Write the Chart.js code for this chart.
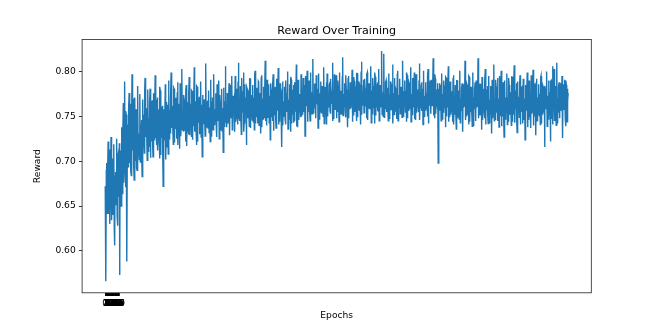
<!DOCTYPE html>
<html>
<head>
<meta charset="utf-8">
<script src="https://cdn.jsdelivr.net/npm/chart.js@4.4.1/dist/chart.umd.min.js"></script>
<style>
html,body{margin:0;padding:0;background:#fff;}
#wrap{width:657px;height:329px;}
</style>
</head>
<body>
<div id="wrap"><canvas id="c" width="657" height="329"></canvas></div>
<script>
const chartTitle = "Reward Over Training";
const xAxisLabel = "Epochs";
const yAxisLabel = "Reward";
const xTickValues = [0,1,2,3,4,5,6,7,8,9,10,11,12,13,14,15,16,17,18,19,
                     20,21,22,23,24,25,26,27,28,29,30,31,32,33,34,35,36,37,38,39];
const yTickValues = [0.60,0.65,0.70,0.75,0.80];

const r01 = [
0.672,0.661,0.566,0.690,0.698,0.642,0.655,0.686,0.722,0.652,
0.641,0.699,0.713,0.630,0.662,0.679,0.727,0.648,0.634,0.703,
0.701,0.640,0.648,0.694,0.719,0.623,0.606,0.684,0.688,0.651,
0.655,0.711,0.725,0.637,0.628,0.706,0.709,0.668,0.660,0.720,
0.573,0.712,0.694,0.655,0.650,0.727,0.738,0.664,0.682,0.731,
0.765,0.676,0.702,0.745,0.789,0.692,0.671,0.756,0.752,0.664,
0.588,0.719,0.741,0.705,0.693,0.757,0.776,0.698,0.708,0.764,
0.761,0.689,0.684,0.752,0.797,0.712,0.716,0.770,0.748,0.695];
const r02 = [
0.679,0.762,0.771,0.701,0.722,0.758,0.757,0.692,0.690,0.767,
0.784,0.706,0.731,0.725,0.702,0.760,0.775,0.699,0.718,0.741,
0.746,0.711,0.683,0.765,0.769,0.716,0.735,0.752,0.709,0.778,
0.793,0.727,0.727,0.759,0.752,0.730,0.701,0.780,0.774,0.711,
0.738,0.748,0.716,0.767,0.781,0.704,0.744,0.739,0.722,0.763,
0.768,0.718,0.705,0.776,0.759,0.724,0.733,0.755,0.796,0.726,
0.740,0.747,0.718,0.769,0.771,0.712,0.728,0.758,0.754,0.729,
0.703,0.783,0.779,0.707,0.745,0.736,0.726,0.761,0.762,0.720];
const r03 = [
0.672,0.757,0.758,0.724,0.737,0.749,0.786,0.702,0.721,0.766,
0.765,0.716,0.742,0.763,0.708,0.790,0.777,0.725,0.750,0.757,
0.731,0.771,0.799,0.737,0.744,0.762,0.762,0.739,0.719,0.782,
0.781,0.721,0.753,0.748,0.736,0.770,0.770,0.732,0.725,0.777,
0.788,0.718,0.747,0.759,0.764,0.737,0.714,0.787,0.775,0.728,
0.741,0.766,0.803,0.735,0.756,0.745,0.733,0.774,0.769,0.734,
0.748,0.758,0.722,0.780,0.785,0.717,0.751,0.756,0.766,0.736,
0.730,0.775,0.794,0.729,0.745,0.762,0.760,0.741,0.727,0.779];
const r04 = [
0.778,0.724,0.754,0.751,0.739,0.768,0.805,0.733,0.748,0.758,
0.767,0.735,0.718,0.784,0.783,0.722,0.757,0.749,0.743,0.763,
0.772,0.731,0.731,0.785,0.789,0.727,0.752,0.763,0.705,0.774,
0.770,0.742,0.746,0.769,0.761,0.751,0.728,0.788,0.809,0.738,
0.750,0.765,0.766,0.746,0.737,0.779,0.779,0.732,0.755,0.760,
0.722,0.791,0.784,0.728,0.749,0.767,0.771,0.741,0.735,0.780,
0.797,0.741,0.758,0.754,0.744,0.772,0.776,0.736,0.727,0.786,
0.768,0.745,0.752,0.763,0.790,0.725,0.741,0.774,0.763,0.748];
const r05 = [
0.735,0.778,0.781,0.734,0.756,0.759,0.710,0.782,0.774,0.739,
0.748,0.767,0.806,0.743,0.759,0.752,0.738,0.776,0.771,0.742,
0.746,0.769,0.787,0.729,0.729,0.785,0.764,0.748,0.753,0.762,
0.795,0.735,0.740,0.773,0.769,0.758,0.757,0.776,0.733,0.795,
0.785,0.744,0.750,0.781,0.772,0.756,0.741,0.789,0.810,0.747,
0.761,0.770,0.745,0.784,0.778,0.750,0.730,0.793,0.767,0.761,
0.754,0.778,0.799,0.733,0.743,0.786,0.775,0.752,0.762,0.771,
0.718,0.783,0.781,0.748,0.752,0.779,0.768,0.760,0.739,0.792];
const r06 = [
0.792,0.737,0.757,0.774,0.773,0.755,0.746,0.785,0.784,0.744,
0.760,0.771,0.735,0.797,0.801,0.742,0.764,0.766,0.749,0.782,
0.777,0.751,0.742,0.789,0.788,0.740,0.755,0.776,0.770,0.759,
0.731,0.794,0.796,0.738,0.761,0.770,0.747,0.783,0.779,0.749,
0.753,0.777,0.812,0.745,0.766,0.763,0.740,0.791,0.774,0.754,
0.749,0.780,0.786,0.743,0.758,0.773,0.724,0.787,0.780,0.749,
0.763,0.768,0.745,0.786,0.797,0.734,0.768,0.761,0.751,0.779,
0.783,0.746,0.737,0.792,0.771,0.757,0.759,0.774,0.804,0.741];
const r07 = [
0.762,0.770,0.744,0.787,0.776,0.752,0.755,0.778,0.716,0.781,
0.789,0.740,0.767,0.761,0.750,0.783,0.782,0.747,0.741,0.790,
0.773,0.755,0.758,0.774,0.800,0.736,0.764,0.769,0.747,0.786,
0.779,0.750,0.733,0.794,0.791,0.742,0.769,0.758,0.752,0.780,
0.785,0.743,0.746,0.788,0.775,0.756,0.761,0.772,0.808,0.739,
0.770,0.763,0.738,0.791,0.782,0.746,0.757,0.775,0.773,0.768,
0.749,0.797,0.796,0.750,0.766,0.779,0.752,0.793,0.787,0.755,
0.760,0.785,0.728,0.795,0.779,0.762,0.763,0.783,0.801,0.744];
const r08 = [
0.771,0.775,0.755,0.790,0.784,0.758,0.745,0.799,0.792,0.753,
0.768,0.777,0.753,0.792,0.814,0.754,0.774,0.769,0.759,0.786,
0.786,0.757,0.748,0.796,0.778,0.765,0.764,0.781,0.737,0.794,
0.798,0.747,0.770,0.776,0.756,0.789,0.789,0.754,0.761,0.784,
0.776,0.767,0.750,0.793,0.805,0.742,0.768,0.778,0.783,0.760,
0.757,0.788,0.741,0.798,0.793,0.750,0.772,0.773,0.760,0.785,
0.788,0.756,0.753,0.792,0.779,0.764,0.766,0.779,0.810,0.745,
0.774,0.771,0.747,0.797,0.785,0.758,0.763,0.783,0.796,0.748];
const r09 = [
0.771,0.776,0.755,0.790,0.782,0.760,0.744,0.799,0.790,0.753,
0.767,0.778,0.778,0.765,0.752,0.794,0.816,0.751,0.775,0.768,
0.761,0.785,0.787,0.756,0.749,0.796,0.780,0.763,0.769,0.777,
0.738,0.793,0.795,0.748,0.773,0.772,0.758,0.788,0.784,0.759,
0.766,0.779,0.802,0.744,0.776,0.767,0.751,0.794,0.789,0.755,
0.763,0.782,0.780,0.762,0.745,0.798,0.798,0.749,0.772,0.774,
0.757,0.789,0.786,0.756,0.768,0.777,0.741,0.800,0.811,0.752,
0.777,0.766,0.762,0.784,0.791,0.754,0.754,0.792,0.781,0.761];
const r10 = [
0.770,0.775,0.748,0.797,0.799,0.746,0.774,0.769,0.759,0.787,
0.787,0.758,0.765,0.780,0.806,0.743,0.779,0.764,0.753,0.793,
0.784,0.759,0.768,0.778,0.742,0.799,0.794,0.751,0.775,0.770,
0.760,0.786,0.788,0.757,0.756,0.790,0.803,0.745,0.771,0.776,
0.785,0.760,0.762,0.783,0.823,0.752,0.777,0.765,0.750,0.796,
0.820,0.749,0.773,0.772,0.758,0.788,0.790,0.755,0.766,0.779,
0.782,0.763,0.745,0.798,0.797,0.748,0.772,0.773,0.757,0.789,
0.786,0.757,0.769,0.777,0.808,0.742,0.776,0.767,0.752,0.793];
const r11 = [
0.789,0.756,0.764,0.781,0.779,0.764,0.747,0.797,0.801,0.745,
0.774,0.771,0.760,0.786,0.792,0.753,0.768,0.777,0.783,0.762,
0.749,0.796,0.812,0.750,0.778,0.765,0.761,0.785,0.790,0.755,
0.766,0.779,0.744,0.799,0.796,0.748,0.773,0.770,0.756,0.789,
0.787,0.758,0.770,0.775,0.805,0.744,0.775,0.768,0.752,0.793,
0.784,0.761,0.763,0.782,0.799,0.747,0.771,0.774,0.746,0.797,
0.791,0.754,0.767,0.778,0.780,0.763,0.755,0.790,0.809,0.746,
0.776,0.767,0.759,0.786,0.788,0.756,0.764,0.781,0.741,0.801];
const r12 = [
0.795,0.750,0.772,0.773,0.757,0.788,0.786,0.759,0.769,0.776,
0.750,0.795,0.803,0.742,0.777,0.766,0.762,0.784,0.790,0.754,
0.753,0.791,0.781,0.762,0.768,0.777,0.815,0.751,0.774,0.770,
0.748,0.797,0.792,0.753,0.765,0.780,0.779,0.764,0.758,0.787,
0.698,0.781,0.773,0.770,0.787,0.757,0.761,0.785,0.745,0.797,
0.798,0.747,0.770,0.775,0.755,0.790,0.784,0.759,0.766,0.779,
0.738,0.794,0.793,0.750,0.775,0.768,0.760,0.786,0.806,0.744,
0.771,0.772,0.749,0.789,0.786,0.752,0.763,0.774,0.778,0.757];
const r13 = [
0.744,0.793,0.796,0.741,0.768,0.770,0.752,0.785,0.783,0.754,
0.736,0.790,0.790,0.748,0.765,0.773,0.779,0.759,0.747,0.788,
0.801,0.743,0.770,0.766,0.756,0.781,0.787,0.750,0.733,0.786,
0.776,0.761,0.762,0.775,0.812,0.746,0.773,0.764,0.750,0.787,
0.785,0.752,0.764,0.773,0.741,0.795,0.794,0.744,0.769,0.768,
0.755,0.783,0.782,0.756,0.739,0.792,0.799,0.740,0.771,0.767,
0.758,0.780,0.788,0.749,0.745,0.790,0.777,0.760,0.763,0.774,
0.815,0.748,0.774,0.763,0.751,0.786,0.786,0.751,0.760,0.777];
const r14 = [
0.735,0.794,0.791,0.746,0.767,0.771,0.781,0.755,0.748,0.789,
0.803,0.741,0.772,0.765,0.757,0.780,0.784,0.753,0.742,0.793,
0.795,0.743,0.768,0.769,0.753,0.784,0.779,0.758,0.731,0.791,
0.789,0.748,0.764,0.772,0.808,0.745,0.770,0.767,0.746,0.791,
0.783,0.754,0.759,0.778,0.793,0.745,0.767,0.770,0.738,0.795,
0.786,0.751,0.762,0.775,0.801,0.739,0.773,0.762,0.750,0.788,
0.781,0.756,0.727,0.786,0.790,0.747,0.766,0.771,0.755,0.782,
0.798,0.741,0.771,0.765,0.744,0.793,0.785,0.752,0.760,0.777];
const r15 = [
0.776,0.759,0.740,0.794,0.794,0.744,0.768,0.769,0.752,0.785,
0.807,0.743,0.774,0.763,0.758,0.779,0.787,0.750,0.732,0.789,
0.780,0.755,0.765,0.772,0.749,0.786,0.796,0.741,0.770,0.766,
0.755,0.782,0.783,0.754,0.742,0.792,0.791,0.746,0.767,0.770,
0.724,0.785,0.778,0.757,0.761,0.776,0.799,0.738,0.771,0.764,
0.746,0.790,0.788,0.749,0.763,0.774,0.737,0.796,0.784,0.753,
0.757,0.781,0.802,0.740,0.772,0.765,0.750,0.787,0.781,0.756,
0.729,0.788,0.792,0.745,0.766,0.771,0.753,0.784,0.786,0.751];
const r16 = [
0.762,0.775,0.741,0.793,0.795,0.742,0.770,0.767,0.752,0.785,
0.783,0.754,0.758,0.779,0.716,0.784,0.779,0.758,0.764,0.773,
0.800,0.739,0.773,0.762,0.747,0.790,0.786,0.752,0.760,0.777,
0.722,0.789,0.790,0.747,0.768,0.769,0.806,0.741,0.775,0.760,
0.803,0.745,0.761,0.776,0.784,0.753,0.740,0.794,0.810,0.743,
0.769,0.768,0.754,0.783,0.788,0.749,0.748,0.787,0.781,0.756,
0.763,0.773,0.795,0.742,0.726,0.786,0.777,0.759,0.758,0.779,
0.791,0.747,0.739,0.790,0.785,0.752,0.744,0.781,0.767,0.776];

const rewards = [].concat(r01, r02, r03, r04, r05, r06, r07, r08,
                          r09, r10, r11, r12, r13, r14, r15, r16);
const points = rewards.map((v, i) => ({x: i, y: v}));

// matplotlib-like 5% margins
const n = rewards.length;
const xPad = (n - 1) * 0.05;
const yMinD = Math.min(...rewards), yMaxD = Math.max(...rewards);
const yPad = (yMaxD - yMinD) * 0.05;

const FONT = "'DejaVu Sans', sans-serif";

const framePlugin = {
  id: 'frame',
  afterDraw(chart) {
    const {ctx, chartArea: a} = chart;
    ctx.save();
    ctx.strokeStyle = '#222';
    ctx.lineWidth = 0.8;
    ctx.strokeRect(a.left, a.top, a.right - a.left, a.bottom - a.top);
    ctx.fillStyle = '#000';
    ctx.font = "11.1px " + FONT;
    ctx.textAlign = 'center';
    ctx.textBaseline = 'alphabetic';
    ctx.fillText(chartTitle, (a.left + a.right) / 2, 34.3);
    ctx.restore();
  }
};

new Chart(document.getElementById('c'), {
  type: 'line',
  data: {
    datasets: [{
      data: points,
      borderColor: '#1f77b4',
      borderWidth: 1.4,
      pointRadius: 0,
      tension: 0,
      fill: false
    }]
  },
  options: {
    responsive: false,
    devicePixelRatio: 1,
    animation: false,
    parsing: false,
    normalized: true,
    layout: { padding: { left: 0, right: 65.7, top: 39.5, bottom: 0 } },
    plugins: { legend: { display: false }, tooltip: { enabled: false }, title: { display: false } },
    scales: {
      x: {
        type: 'linear',
        min: -xPad,
        max: (n - 1) + xPad,
        afterBuildTicks: (s) => { s.ticks = xTickValues.map(v => ({value: v})); },
        afterFit: (s) => { s.height = 36.2; },
        ticks: {
          autoSkip: false, maxRotation: 0, minRotation: 0,
          color: '#000', padding: 2.5,
          font: { family: FONT, size: 9.13 },
          callback: (v) => String(v)
        },
        grid: { drawOnChartArea: false, drawTicks: true, tickLength: 3.2, color: '#000', tickColor: '#000', lineWidth: 0.8 },
        border: { display: false },
        title: { display: true, text: xAxisLabel, color: '#000', font: { family: FONT, size: 9.13 }, padding: { top: 0, bottom: 7.5 } }
      },
      y: {
        type: 'linear',
        min: yMinD - yPad,
        max: yMaxD + yPad,
        afterBuildTicks: (s) => { s.ticks = yTickValues.map(v => ({value: v})); },
        afterFit: (s) => { s.width = 82.1; },
        ticks: {
          color: '#000', padding: 3.2,
          font: { family: FONT, size: 9.13 },
          callback: (v) => Number(v).toFixed(2)
        },
        grid: { drawOnChartArea: false, drawTicks: true, tickLength: 3.2, color: '#000', tickColor: '#000', lineWidth: 0.8 },
        border: { display: false },
        title: { display: true, text: yAxisLabel, color: '#000', font: { family: FONT, size: 9.13 }, padding: { top: 32, bottom: 0 } }
      }
    }
  },
  plugins: [framePlugin]
});
</script>
</body>
</html>
